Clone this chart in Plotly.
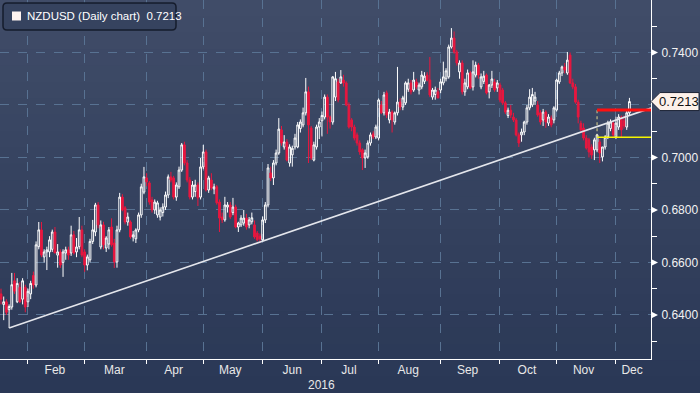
import plotly.graph_objects as go
import pandas as pd

# ---------------- data ----------------
dates = pd.bdate_range("2016-01-18", "2016-12-08")

opens = [
    0.6480,0.6440,0.6450,0.6420,0.6430,0.6530,0.6450,0.6505,0.6460,0.6505,
    0.6450,0.6480,0.6550,0.6514,0.6660,0.6724,0.6621,0.6640,0.6640,0.6650,0.6716,0.6628,0.6640,0.6600,0.6636,0.6648,0.6636,0.6705,0.6640,0.6660,0.6724,
    0.6640,0.6590,0.6610,0.6680,0.6716,0.6819,0.6659,0.6743,0.6655,0.6670,0.6735,0.6674,0.6602,0.6724,0.6849,0.6808,0.6754,0.6754,0.6697,0.6690,0.6724,0.6781,0.6868,
    0.6922,0.6903,0.6838,0.6800,0.6781,0.6773,0.6790,0.6811,0.6857,0.6926,0.6922,0.6849,0.6888,0.6952,0.7048,0.6979,0.6914,0.6849,0.6870,0.6895,0.6849,
    0.6964,0.7021,0.6876,0.6914,0.6880,0.6888,0.6830,0.6773,0.6762,0.6811,0.6819,0.6790,0.6811,0.6735,0.6743,0.6750,0.6769,0.6743,0.6755,0.6743,0.6712,0.6700,
    0.6686,0.6762,0.6819,0.6941,0.6922,0.6979,0.7017,0.7105,0.7040,0.7059,0.6979,0.7010,0.7040,0.7040,0.7110,0.7124,0.7170,0.7250,0.7112,0.6990,0.7040,0.7116,
    0.7140,0.7154,0.7230,0.7154,0.7135,0.7230,0.7288,0.7284,0.7295,0.7284,0.7200,0.7143,0.7116,0.7086,0.7055,0.7029,0.6998,0.7002,0.7055,0.7090,0.7078,
    0.7074,0.7200,0.7170,0.7246,0.7143,0.7173,0.7135,0.7170,0.7211,0.7192,0.7208,0.7260,0.7284,0.7257,0.7288,0.7257,0.7269,0.7290,0.7314,0.7295,0.7230,0.7240,0.7250,
    0.7257,0.7284,0.7300,0.7307,0.7421,0.7455,0.7402,0.7326,0.7360,0.7250,0.7269,0.7322,0.7269,0.7314,0.7352,0.7269,0.7290,0.7314,0.7250,0.7276,0.7288,0.7265,
    0.7276,0.7257,0.7208,0.7160,0.7180,0.7154,0.7143,0.7086,0.7086,0.7097,0.7135,0.7189,0.7200,0.7215,0.7200,0.7170,0.7143,0.7173,0.7131,0.7150,0.7143,
    0.7181,0.7288,0.7322,0.7345,0.7322,0.7390,0.7284,0.7269,0.7211,0.7130,0.7112,0.7074,0.7067,0.7040,0.7029,0.7029,0.7059,0.7002,0.7040,0.7078,0.7110,0.7131,
    0.7078,0.7116,0.7154,0.7140,0.7116,0.7170,
]
highs = [
    0.6500,0.6470,0.6460,0.6440,0.6560,0.6560,0.6540,0.6525,0.6540,0.6515,
    0.6500,0.6530,0.6565,0.6680,0.6754,0.6754,0.6650,0.6660,0.6700,0.6725,0.6735,0.6670,0.6650,0.6650,0.6660,0.6660,0.6740,0.6720,0.6693,0.6773,0.6740,
    0.6650,0.6630,0.6690,0.6762,0.6827,0.6830,0.6760,0.6755,0.6700,0.6735,0.6768,0.6690,0.6740,0.6865,0.6860,0.6815,0.6790,0.6760,0.6720,0.6730,0.6790,0.6900,0.6964,
    0.6940,0.6910,0.6850,0.6840,0.6835,0.6810,0.6825,0.6870,0.6935,0.6945,0.6930,0.6905,0.6965,0.7055,0.7060,0.6990,0.6925,0.6910,0.6915,0.6905,0.6998,
    0.7048,0.7030,0.6930,0.6940,0.6900,0.6895,0.6840,0.6790,0.6850,0.6830,0.6830,0.6846,0.6820,0.6755,0.6780,0.6800,0.6785,0.6773,0.6790,0.6760,0.6720,0.6710,
    0.6775,0.6830,0.6975,0.6965,0.6990,0.7030,0.7150,0.7120,0.7085,0.7070,0.7050,0.7045,0.7090,0.7135,0.7145,0.7190,0.7303,0.7270,0.7120,0.7060,0.7125,0.7150,
    0.7175,0.7240,0.7240,0.7160,0.7310,0.7326,0.7300,0.7333,0.7315,0.7290,0.7210,0.7150,0.7125,0.7095,0.7065,0.7035,0.7030,0.7065,0.7095,0.7100,0.7125,
    0.7225,0.7215,0.7250,0.7255,0.7185,0.7180,0.7175,0.7345,0.7225,0.7235,0.7290,0.7300,0.7295,0.7326,0.7300,0.7285,0.7330,0.7325,0.7325,0.7383,0.7265,0.7270,0.7265,
    0.7300,0.7365,0.7340,0.7430,0.7493,0.7480,0.7410,0.7370,0.7370,0.7300,0.7335,0.7330,0.7370,0.7365,0.7360,0.7320,0.7330,0.7320,0.7280,0.7330,0.7300,0.7295,
    0.7285,0.7265,0.7215,0.7190,0.7200,0.7170,0.7150,0.7095,0.7110,0.7140,0.7200,0.7260,0.7265,0.7250,0.7215,0.7180,0.7185,0.7180,0.7165,0.7160,0.7195,
    0.7300,0.7330,0.7350,0.7360,0.7402,0.7400,0.7300,0.7280,0.7220,0.7140,0.7130,0.7085,0.7075,0.7050,0.7075,0.7090,0.7070,0.7040,0.7085,0.7140,0.7145,0.7140,
    0.7155,0.7165,0.7160,0.7160,0.7180,0.7227,
]
lows = [
    0.6440,0.6380,0.6400,0.6350,0.6420,0.6480,0.6445,0.6445,0.6440,0.6410,
    0.6430,0.6460,0.6500,0.6505,0.6650,0.6620,0.6600,0.6571,0.6620,0.6640,0.6636,0.6580,0.6579,0.6545,0.6610,0.6610,0.6625,0.6630,0.6620,0.6650,0.6620,
    0.6564,0.6570,0.6600,0.6670,0.6700,0.6730,0.6650,0.6650,0.6640,0.6650,0.6660,0.6579,0.6580,0.6715,0.6795,0.6745,0.6740,0.6690,0.6680,0.6674,0.6715,0.6770,0.6860,
    0.6890,0.6820,0.6790,0.6785,0.6770,0.6760,0.6775,0.6800,0.6845,0.6905,0.6840,0.6835,0.6880,0.6945,0.6970,0.6905,0.6840,0.6840,0.6850,0.6815,0.6840,
    0.6955,0.6870,0.6865,0.6875,0.6860,0.6820,0.6716,0.6750,0.6755,0.6790,0.6765,0.6780,0.6730,0.6716,0.6735,0.6740,0.6725,0.6730,0.6745,0.6690,0.6680,0.6674,
    0.6680,0.6750,0.6810,0.6910,0.6895,0.6970,0.7010,0.7045,0.7030,0.6985,0.6965,0.6965,0.7030,0.7035,0.7095,0.7115,0.7160,0.6979,0.6990,0.6985,0.7030,0.7070,
    0.7080,0.7145,0.7090,0.7110,0.7125,0.7215,0.7210,0.7280,0.7270,0.7195,0.7110,0.7100,0.7065,0.7045,0.7010,0.6952,0.6960,0.6995,0.7045,0.7070,0.7070,
    0.7065,0.7165,0.7160,0.7150,0.7130,0.7095,0.7125,0.7160,0.7180,0.7180,0.7200,0.7250,0.7240,0.7250,0.7260,0.7240,0.7260,0.7280,0.7290,0.7230,0.7220,0.7220,0.7225,
    0.7245,0.7275,0.7290,0.7300,0.7415,0.7395,0.7350,0.7300,0.7240,0.7235,0.7260,0.7260,0.7255,0.7305,0.7300,0.7260,0.7280,0.7240,0.7225,0.7265,0.7250,0.7250,
    0.7210,0.7200,0.7165,0.7150,0.7150,0.7135,0.7080,0.7040,0.7060,0.7085,0.7125,0.7180,0.7192,0.7200,0.7155,0.7125,0.7120,0.7113,0.7120,0.7115,0.7130,
    0.7175,0.7280,0.7310,0.7320,0.7315,0.7280,0.7260,0.7205,0.7130,0.7100,0.7065,0.7030,0.7000,0.6995,0.6990,0.7020,0.6979,0.6985,0.7030,0.7070,0.7100,0.7075,
    0.7070,0.7105,0.7078,0.7110,0.7105,0.7160,
]
closes = [
    0.6460,0.6450,0.6410,0.6432,0.6515,0.6490,0.6520,0.6450,0.6530,0.6430,
    0.6490,0.6520,0.6514,0.6667,0.6724,0.6628,0.6640,0.6648,0.6686,0.6716,0.6636,0.6640,0.6590,0.6640,0.6648,0.6628,0.6705,0.6636,0.6659,0.6724,0.6628,
    0.6590,0.6621,0.6680,0.6724,0.6819,0.6743,0.6743,0.6667,0.6693,0.6724,0.6667,0.6602,0.6724,0.6849,0.6800,0.6754,0.6773,0.6697,0.6705,0.6724,0.6781,0.6888,0.6926,
    0.6907,0.6830,0.6800,0.6830,0.6827,0.6800,0.6811,0.6857,0.6926,0.6914,0.6849,0.6895,0.6952,0.7048,0.6979,0.6914,0.6849,0.6895,0.6895,0.6846,0.6964,
    0.7021,0.6876,0.6922,0.6884,0.6888,0.6827,0.6769,0.6762,0.6819,0.6819,0.6773,0.6811,0.6735,0.6750,0.6769,0.6769,0.6735,0.6762,0.6770,0.6697,0.6686,0.6690,
    0.6762,0.6819,0.6960,0.6922,0.6979,0.7017,0.7108,0.7055,0.7059,0.6990,0.7040,0.7035,0.7074,0.7124,0.7135,0.7170,0.7250,0.7124,0.6998,0.7048,0.7116,0.7135,
    0.7160,0.7230,0.7154,0.7135,0.7307,0.7300,0.7219,0.7307,0.7284,0.7200,0.7116,0.7116,0.7074,0.7055,0.7021,0.6998,0.7017,0.7055,0.7086,0.7078,0.7116,
    0.7219,0.7170,0.7238,0.7162,0.7173,0.7143,0.7170,0.7211,0.7192,0.7227,0.7284,0.7284,0.7250,0.7295,0.7269,0.7276,0.7314,0.7310,0.7295,0.7238,0.7257,0.7257,0.7227,
    0.7288,0.7307,0.7330,0.7421,0.7455,0.7402,0.7360,0.7360,0.7250,0.7284,0.7322,0.7265,0.7326,0.7352,0.7314,0.7307,0.7310,0.7246,0.7276,0.7299,0.7257,0.7284,
    0.7219,0.7208,0.7173,0.7180,0.7162,0.7143,0.7086,0.7055,0.7097,0.7135,0.7189,0.7230,0.7240,0.7230,0.7162,0.7135,0.7173,0.7135,0.7154,0.7124,0.7189,
    0.7295,0.7322,0.7345,0.7333,0.7371,0.7284,0.7269,0.7211,0.7154,0.7105,0.7074,0.7036,0.7021,0.7009,0.7067,0.7086,0.7017,0.7040,0.7078,0.7131,0.7135,0.7086,
    0.7131,0.7154,0.7105,0.7120,0.7170,0.7213,
]

instrument = "NZDUSD"
chart_kind = "Daily chart"

y_tick_vals = [0.64, 0.66, 0.68, 0.70, 0.72, 0.74]
y_tick_text = ["0.6400", "0.6600", "0.6800", "0.7000", "", "0.7400"]
y_minor_vals = [0.63, 0.65, 0.67, 0.69, 0.71, 0.73, 0.75]

month_starts = ["2016-02-01", "2016-03-01", "2016-04-01", "2016-05-02", "2016-06-01",
                "2016-07-01", "2016-08-01", "2016-09-01", "2016-10-03", "2016-11-01", "2016-12-01"]
month_label_dates = ["2016-02-15", "2016-03-16", "2016-04-15", "2016-05-16", "2016-06-16",
                     "2016-07-15", "2016-08-16", "2016-09-15", "2016-10-17", "2016-11-15", "2016-12-09"]
month_labels = ["Feb", "Mar", "Apr", "May", "Jun", "Jul", "Aug", "Sep", "Oct", "Nov", "Dec"]
year_label = "2016"
year_label_date = "2016-07-01"

trend_dates = ["2016-01-21", "2016-12-20"]
trend_prices = [0.6350, 0.7188]
level_dates = ["2016-11-22", "2016-12-20"]
resistance_price = 0.7181
support_price = 0.7077

x_range = ["2016-01-15 15:00", "2016-12-20"]
y_range = [0.6232, 0.7600]

# ---------------- geometry helpers ----------------
W, H = 700, 393
ML, MR, MT, MB = 0, 49, 0, 34
PW, PH = W - ML - MR, H - MT - MB


def px_x(px):
    return (px - ML) / PW


def px_y(py):
    return 1 - (py - MT) / PH


def price_y(p):
    return (p - y_range[0]) / (y_range[1] - y_range[0])


FONT = "Liberation Sans"
fig = go.Figure()

fig.add_trace(go.Candlestick(
    x=dates, open=opens, high=highs, low=lows, close=closes,
    increasing=dict(line=dict(color="#ffffff", width=1), fillcolor="rgba(0,0,0,0)"),
    decreasing=dict(line=dict(color="#e8173f", width=1), fillcolor="#e8173f"),
    whiskerwidth=0, hoverinfo="skip", name=instrument,
))

fig.add_trace(go.Scatter(x=trend_dates, y=trend_prices, mode="lines",
                         line=dict(color="#e4e6ec", width=1.6), hoverinfo="skip"))
fig.add_trace(go.Scatter(x=level_dates, y=[support_price, support_price], mode="lines",
                         line=dict(color="#f5f500", width=1.5), hoverinfo="skip"))
fig.add_trace(go.Scatter(x=[level_dates[0], level_dates[0]], y=[support_price, resistance_price],
                         mode="lines", line=dict(color="#e0d890", width=1, dash="dot"), hoverinfo="skip"))
fig.add_trace(go.Scatter(x=level_dates, y=[resistance_price, resistance_price], mode="lines",
                         line=dict(color="#ff1010", width=3), hoverinfo="skip"))

shapes = []
# background gradient bands
top_rgb = (64, 76, 104)
bot_rgb = (42, 56, 86)
n_bands = 24
for k in range(n_bands):
    t = k / (n_bands - 1)
    col = tuple(round(top_rgb[j] + (bot_rgb[j] - top_rgb[j]) * t) for j in range(3))
    y0 = k * H / n_bands
    y1 = (k + 1) * H / n_bands + 1
    shapes.append(dict(type="rect", xref="paper", yref="paper", layer="below",
                       x0=px_x(0), x1=px_x(W), y0=px_y(y1), y1=px_y(y0),
                       fillcolor="rgb(%d,%d,%d)" % col, line=dict(width=0)))

# tick flags on the price axis
for v, t in zip(y_tick_vals, y_tick_text):
    if not t:
        continue
    yc = price_y(v)
    h = 3.5 / PH
    shapes.append(dict(type="path", xref="paper", yref="paper", layer="above",
                       path=f"M 1 {yc + h} L 1 {yc - h} L {1 + 7 / PW} {yc} Z",
                       fillcolor="#ffffff", line=dict(width=0)))

# last-price tag
last = closes[-1]
yc = price_y(last)
hh = 9 / PH
shapes.append(dict(type="path", xref="paper", yref="paper", layer="above",
                   path=(f"M 1 {yc} L {px_x(660)} {yc + hh} L {px_x(699)} {yc + hh} "
                         f"L {px_x(699)} {yc - hh} L {px_x(660)} {yc - hh} Z"),
                   fillcolor="#fdf1ea", line=dict(color="#1d2436", width=1)))

# legend box with rounded corners
bx0, bx1, by0, by1, r = 3, 176, 3, 30, 4
path = (f"M {px_x(bx0 + r)} {px_y(by0)} L {px_x(bx1 - r)} {px_y(by0)} "
        f"Q {px_x(bx1)} {px_y(by0)} {px_x(bx1)} {px_y(by0 + r)} "
        f"L {px_x(bx1)} {px_y(by1 - r)} Q {px_x(bx1)} {px_y(by1)} {px_x(bx1 - r)} {px_y(by1)} "
        f"L {px_x(bx0 + r)} {px_y(by1)} Q {px_x(bx0)} {px_y(by1)} {px_x(bx0)} {px_y(by1 - r)} "
        f"L {px_x(bx0)} {px_y(by0 + r)} Q {px_x(bx0)} {px_y(by0)} {px_x(bx0 + r)} {px_y(by0)} Z")
shapes.append(dict(type="path", xref="paper", yref="paper", layer="above", path=path,
                   fillcolor="#36435f", line=dict(color="#151c2c", width=1.5)))
shapes.append(dict(type="rect", xref="paper", yref="paper", layer="above",
                   x0=px_x(12), x1=px_x(21), y0=px_y(20.5), y1=px_y(11.5),
                   fillcolor="#fff4f0", line=dict(width=0)))

annotations = [
    dict(xref="paper", yref="paper", x=px_x(25), y=px_y(16.5), xanchor="left", yanchor="middle",
         text=f"{instrument} ({chart_kind})  {last:.4f}", showarrow=False,
         font=dict(family=FONT, size=11.5, color="#ffffff")),
    dict(xref="paper", yref="paper", x=px_x(679), y=yc, xanchor="center", yanchor="middle",
         text=f"{last:.4f}", showarrow=False, font=dict(family=FONT, size=13, color="#111111")),
    dict(xref="x", yref="paper", x=year_label_date, y=px_y(385), xanchor="center", yanchor="middle",
         text=year_label, showarrow=False, font=dict(family=FONT, size=12, color="#e8e8e8")),
]

grid_col = "#587292"
fig.update_layout(
    width=W, height=H, margin=dict(l=ML, r=MR, t=MT, b=MB),
    paper_bgcolor="#2c3a57", plot_bgcolor="rgba(0,0,0,0)",
    showlegend=False, boxgap=0.08,
    font=dict(family=FONT, size=12, color="#e8e8e8"),
    shapes=shapes, annotations=annotations,
    xaxis=dict(
        type="date", range=x_range, rangebreaks=[dict(bounds=["sat", "mon"])],
        rangeslider=dict(visible=False),
        tickmode="array", tickvals=month_label_dates, ticktext=month_labels,
        ticks="", showgrid=False, zeroline=False,
        showline=True, linecolor="#ffffff", linewidth=1,
        tickfont=dict(family=FONT, size=12, color="#e8e8e8"),
        minor=dict(tickmode="array", tickvals=month_starts, ticks="outside", ticklen=4,
                   tickcolor="#ffffff", showgrid=True, gridcolor=grid_col,
                   griddash="dash", gridwidth=1),
    ),
    yaxis=dict(
        side="right", range=y_range, tickmode="array",
        tickvals=y_tick_vals, ticktext=y_tick_text,
        ticks="outside", ticklen=7, tickcolor="rgba(0,0,0,0)",
        showgrid=True, gridcolor=grid_col, griddash="dash", gridwidth=1,
        zeroline=False, showline=True, linecolor="#ffffff", linewidth=1,
        tickfont=dict(family=FONT, size=12, color="#f2f2f2"),
        minor=dict(tickmode="array", tickvals=y_minor_vals, ticks="outside", ticklen=5,
                   tickcolor="#ffffff", showgrid=False),
    ),
)

fig.write_html(
    "out.html",
    config={"displayModeBar": False},
    post_script="document.body.style.margin='0';document.body.style.overflow='hidden';",
)
